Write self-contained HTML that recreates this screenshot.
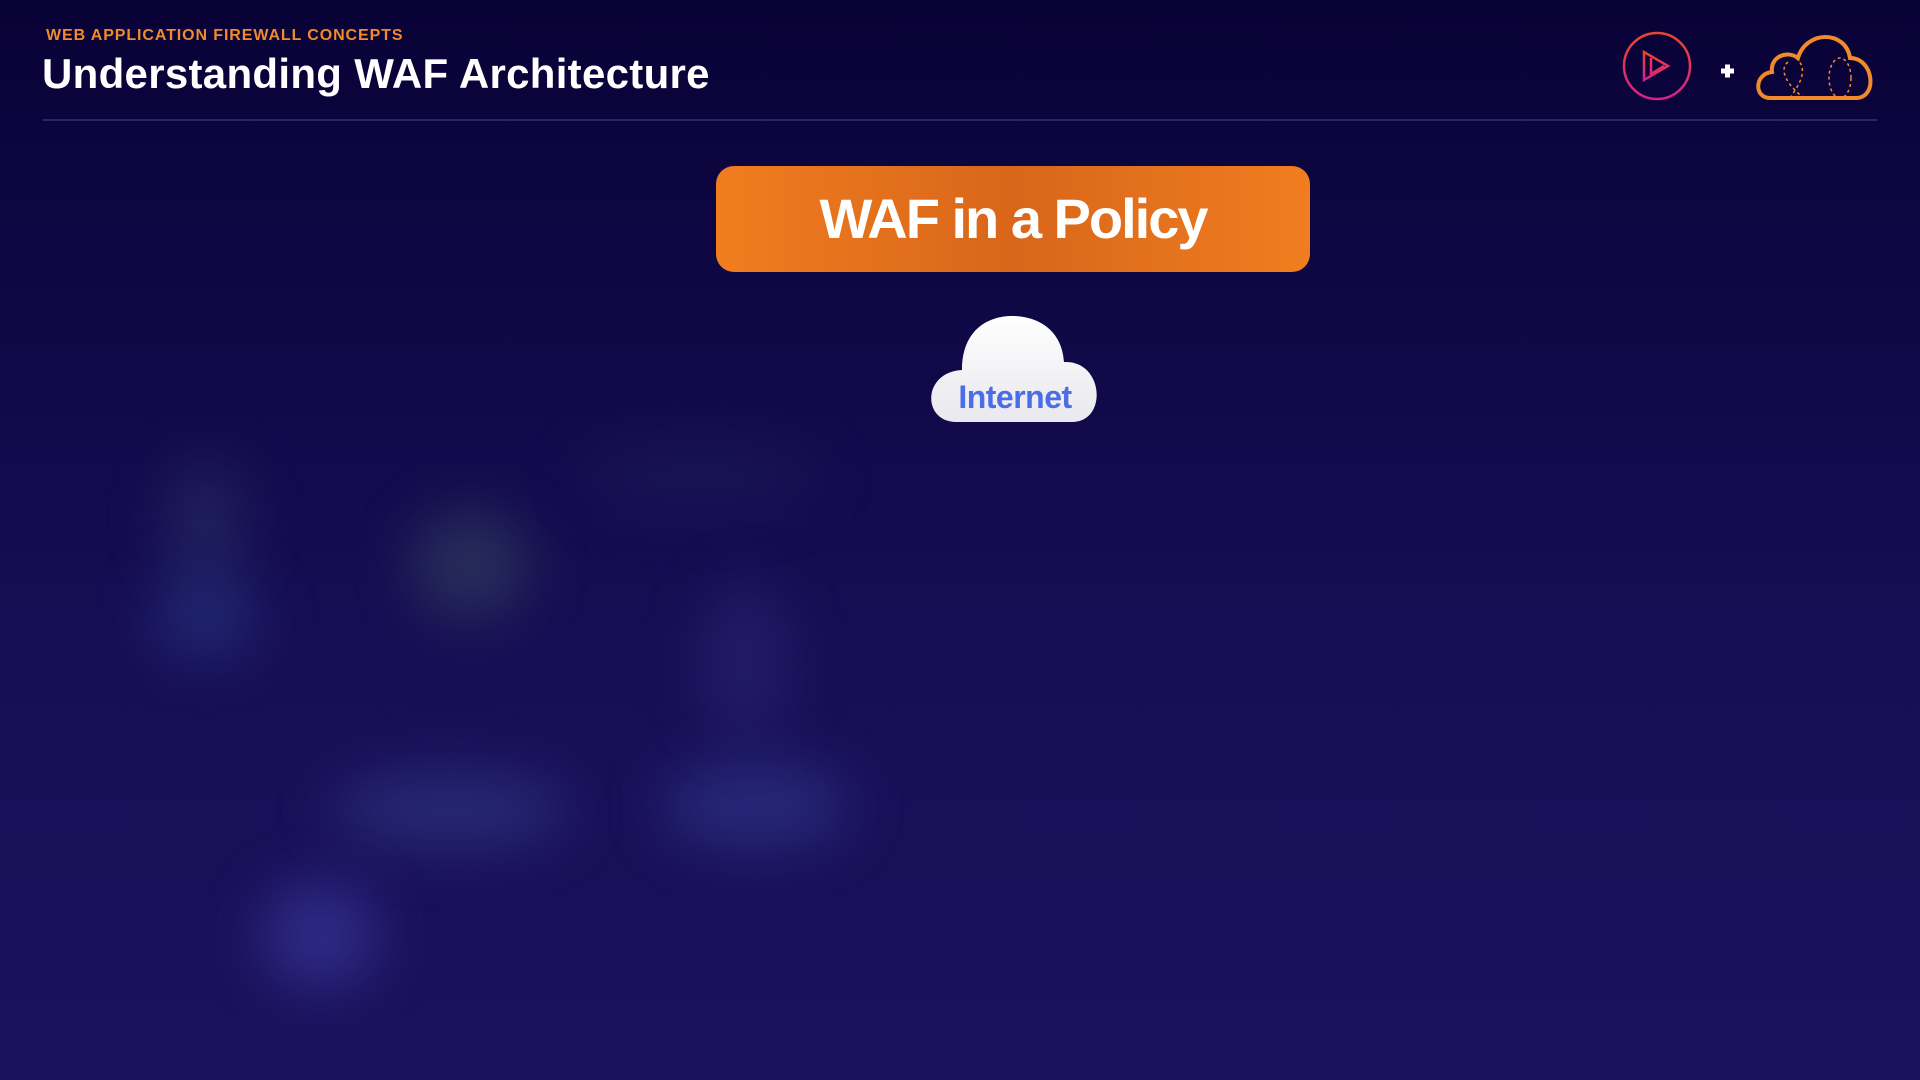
<!DOCTYPE html>
<html><head><meta charset="utf-8"><style>
html,body{margin:0;padding:0}
body{width:1920px;height:1080px;overflow:hidden;position:relative;font-family:"Liberation Sans",sans-serif;
background:linear-gradient(180deg,#090236 0%,#0f0846 30%,#170e55 60%,#1b125c 100%);}
.blob{position:absolute;border-radius:50%;filter:blur(28px);}
</style></head><body>
<div class="blob" style="left:165px;top:460px;width:80px;height:120px;background:#2a2f66;opacity:.6"></div>
<div class="blob" style="left:150px;top:570px;width:110px;height:90px;background:#23307a;opacity:.7"></div>
<div class="blob" style="left:410px;top:510px;width:120px;height:110px;background:#2f3a5e;opacity:.7"></div>
<div class="blob" style="left:330px;top:770px;width:240px;height:80px;background:#2b2e7a;opacity:.8"></div>
<div class="blob" style="left:660px;top:760px;width:190px;height:90px;background:#2a2e80;opacity:.8"></div>
<div class="blob" style="left:700px;top:580px;width:90px;height:160px;background:#2a2570;opacity:.6"></div>
<div class="blob" style="left:260px;top:880px;width:120px;height:110px;background:#33308f;opacity:.8"></div>
<div class="blob" style="left:580px;top:440px;width:240px;height:70px;background:#1f1e5c;opacity:.5"></div>

<div style="position:absolute;left:46px;top:27px;color:#f08a2b;font-weight:bold;font-size:16px;letter-spacing:.9px">WEB APPLICATION FIREWALL CONCEPTS</div>
<div style="position:absolute;left:42px;top:50px;color:#fff;font-weight:bold;font-size:42px;letter-spacing:.3px">Understanding WAF Architecture</div>
<div style="position:absolute;left:43px;top:119px;width:1834px;height:2px;background:#2a2468"></div>

<svg style="position:absolute;left:1620px;top:28px" width="270" height="80" viewBox="0 0 270 80">
<defs><linearGradient id="pg" x1="0" y1="0" x2="0" y2="1"><stop offset="0" stop-color="#e8472f"/><stop offset="1" stop-color="#d8208a"/></linearGradient></defs>
<circle cx="37" cy="38" r="33" fill="none" stroke="url(#pg)" stroke-width="2.5"/>
<path d="M24 24 L24 52 L48 38 Z M31 30 L31 46 L44 38" fill="none" stroke="url(#pg)" stroke-width="2.5"/>
<path d="M101 43 h13 M107.5 36.5 v13" stroke="#fff" stroke-width="5"/>
<path d="M150 70 C134 70 134 46 152 44 C150 28 168 22 178 30 C186 2 226 2 230 30 C254 30 258 70 236 70 Z" fill="none" stroke="#f08a2b" stroke-width="4"/>
<path d="M168 34 C158 42 168 58 184 70 M176 30 C190 42 178 58 170 70" fill="none" stroke="#f08a2b" stroke-width="1.5" stroke-dasharray="3 3"/>
<ellipse cx="220" cy="50" rx="11" ry="20" fill="none" stroke="#f08a2b" stroke-width="1.5" stroke-dasharray="3 3"/>
</svg>

<div style="position:absolute;left:716px;top:166px;width:594px;height:106px;border-radius:18px;background:linear-gradient(90deg,#f07d1f 0%,#d9661a 50%,#f07d1f 100%);color:#fff;font-weight:bold;font-size:56px;letter-spacing:-2px;text-align:center;line-height:106px">WAF in a Policy</div>

<svg style="position:absolute;left:922px;top:312px" width="186" height="114" viewBox="0 0 186 114">
<defs><linearGradient id="cg" x1="0" y1="0" x2="0" y2="1"><stop offset="0" stop-color="#ffffff"/><stop offset="1" stop-color="#e8e8ee"/></linearGradient></defs>
<path d="M34 110 C0 110 0 60 40 58 C40 18 66 4 90 4 C116 4 140 18 142 50 C182 48 186 110 150 110 Z" fill="url(#cg)"/>
<text x="93" y="96" text-anchor="middle" font-family="Liberation Sans" font-weight="bold" font-size="32" fill="#4b6ee6" letter-spacing="-0.5">Internet</text>
</svg>
</body></html>
